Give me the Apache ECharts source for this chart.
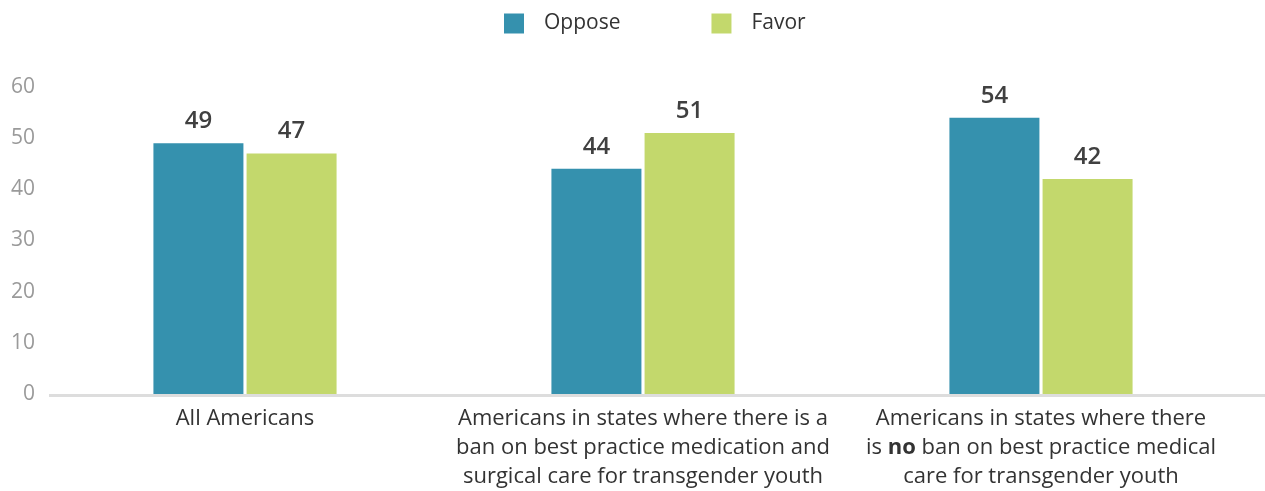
<!DOCTYPE html>
<html>
<head>
<meta charset="utf-8">
<script src="https://cdn.jsdelivr.net/npm/echarts@6/dist/echarts.min.js"></script>
<style>
  html, body { margin: 0; padding: 0; background: #fff; }
  #chart { width: 1265px; height: 491px; }
</style>
</head>
<body>
<div id="chart"></div>
<script>
// Survey groups (category labels use rich text for the bold "no")
const categories = [
  'All Americans',
  'Americans in states where there is a\nban on best practice medication and\nsurgical care for transgender youth',
  'Americans in states where there\nis {b|no} ban on best practice medical\ncare for transgender youth'
];
const seriesNames = ['Oppose', 'Favor'];
const opposeValues = [49, 44, 54];
const favorValues = [47, 51, 42];
const yTicks = [0, 10, 20, 30, 40, 50, 60];

const FONT = '"Open Sans", "Noto Sans", sans-serif';
const COLORS = ['#3591ae', '#c3d86c'];

const chart = echarts.init(document.getElementById('chart'), null, { renderer: 'canvas' });

const valueLabel = {
  show: true,
  position: 'top',
  distance: 10,
  fontFamily: FONT,
  fontSize: 24,
  fontWeight: 600,
  color: '#404040'
};

chart.setOption({
  animation: false,
  color: COLORS,
  legend: {
    top: 8,
    left: 499,
    itemWidth: 20,
    itemHeight: 20,
    itemGap: 91,
    icon: 'rect',
    data: seriesNames,
    textStyle: {
      fontFamily: FONT,
      fontSize: 21,
      color: '#333',
      padding: [0, 0, 0, 15]
    }
  },
  grid: { left: 46, right: 25, top: 87, bottom: 97, containLabel: false },
  xAxis: {
    type: 'category',
    data: categories,
    axisLine: { show: false },
    axisTick: { show: false },
    axisLabel: {
      interval: 0,
      margin: 10,
      fontFamily: FONT,
      fontSize: 22,
      lineHeight: 29,
      color: '#333',
      align: 'center',
      rich: {
        b: { fontFamily: FONT, fontSize: 22, fontWeight: 'bold', color: '#333', lineHeight: 29 }
      }
    }
  },
  yAxis: {
    type: 'value',
    min: yTicks[0],
    max: yTicks[yTicks.length - 1],
    interval: 10,
    splitLine: { show: false },
    axisLine: { show: false },
    axisTick: { show: false },
    axisLabel: {
      margin: 11,
      fontFamily: FONT,
      fontSize: 21,
      color: '#9a9a9a'
    }
  },
  series: [
    {
      name: seriesNames[0],
      type: 'bar',
      data: opposeValues,
      barWidth: 90,
      barGap: '3.5%',
      label: valueLabel
    },
    {
      name: seriesNames[1],
      type: 'bar',
      data: favorValues,
      barWidth: 90,
      label: valueLabel
    }
  ]
});

// Baseline under the bars, running to the right edge of the canvas
const baseY = chart.convertToPixel({ yAxisIndex: 0 }, 0);
chart.setOption({
  graphic: [{
    type: 'line',
    z: 100,
    shape: { x1: 49, y1: baseY + 1.5, x2: 1265, y2: baseY + 1.5 },
    style: { stroke: '#dddddd', lineWidth: 3 }
  }]
});
</script>
</body>
</html>
